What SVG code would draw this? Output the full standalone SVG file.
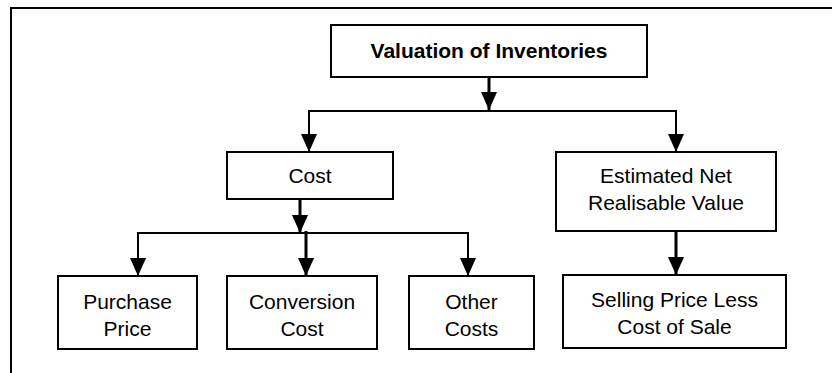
<svg xmlns="http://www.w3.org/2000/svg" width="832" height="373" viewBox="0 0 832 373">
<style>
.box{fill:#fff;stroke:#000;stroke-width:2}
.t{font-family:"Liberation Sans",Arial,sans-serif;font-size:21px;fill:#000;text-anchor:middle}
.b{font-weight:bold}
.c{fill:none;stroke:#000;stroke-width:2}
.k{stroke-width:3}
</style>
<defs>
<marker id="ah" viewBox="0 0 18 16" markerWidth="18" markerHeight="16" refX="18" refY="8" orient="auto" markerUnits="userSpaceOnUse">
<path d="M0,0 L18,8 L0,16 z" fill="#000"/>
</marker>
</defs>
<rect width="832" height="373" fill="#fff"/>
<g id="frame">
<path d="M11,373 V8 H832" fill="none" stroke="#000" stroke-width="2"/>
</g>
<g id="connectors">
<path class="c k" d="M489,77 V110" marker-end="url(#ah)"/>
<path class="c" d="M309,152 V111 H676 V152" marker-end="url(#ah)"/>
<path class="c" d="M309,111 V152" marker-end="url(#ah)"/>
<path class="c k" d="M300,199 V233" marker-end="url(#ah)"/>
<path class="c" d="M138,276 V233 H468 V276" marker-end="url(#ah)"/>
<path class="c" d="M138,233 V276" marker-end="url(#ah)"/>
<path class="c k" d="M306,231 V276" marker-end="url(#ah)"/>
<path class="c k" d="M676,231 V275" marker-end="url(#ah)"/>
</g>
<g id="valuation">
<rect class="box" x="331" y="25" width="316" height="52"/>
<text class="t b" x="489" y="58">Valuation of Inventories</text>
</g>
<g id="cost">
<rect class="box" x="227" y="152" width="166" height="47"/>
<text class="t" x="310" y="183">Cost</text>
</g>
<g id="enrv">
<rect class="box" x="556" y="152" width="220" height="79"/>
<text class="t" x="666" y="183">Estimated Net</text>
<text class="t" x="666" y="210">Realisable Value</text>
</g>
<g id="purchase">
<rect class="box" x="58" y="276" width="139" height="73"/>
<text class="t" x="127.5" y="309">Purchase</text>
<text class="t" x="127.5" y="336">Price</text>
</g>
<g id="conversion">
<rect class="box" x="227" y="276" width="150" height="73"/>
<text class="t" x="302" y="309">Conversion</text>
<text class="t" x="302" y="336">Cost</text>
</g>
<g id="other">
<rect class="box" x="409" y="276" width="125" height="73"/>
<text class="t" x="471.5" y="309">Other</text>
<text class="t" x="471.5" y="336">Costs</text>
</g>
<g id="selling">
<rect class="box" x="563" y="275" width="223" height="73"/>
<text class="t" x="674.5" y="307">Selling Price Less</text>
<text class="t" x="674.5" y="334">Cost of Sale</text>
</g>
</svg>
